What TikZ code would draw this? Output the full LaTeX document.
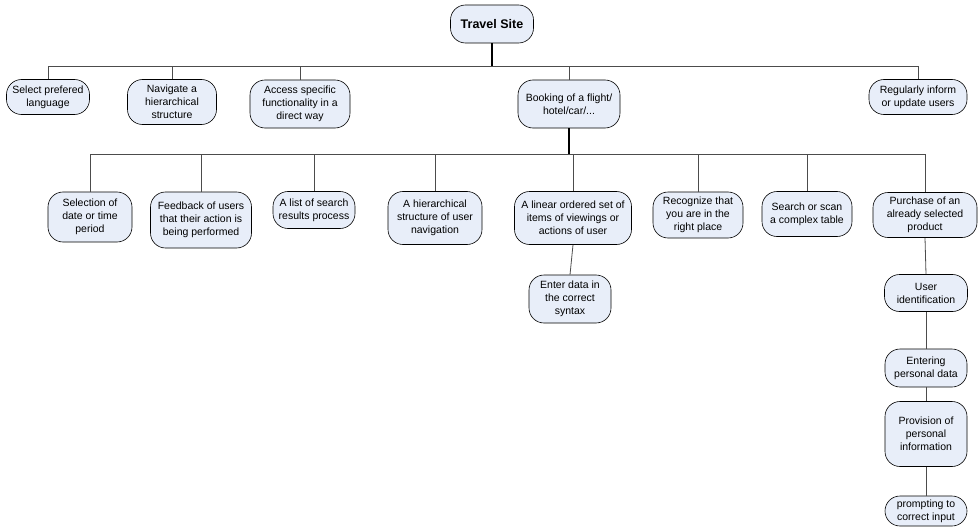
\documentclass[tikz,border=0pt]{standalone}
\usepackage{fontspec}
\setmainfont{Liberation Sans}
\usepackage{tikz}
\definecolor{boxfill}{RGB}{232, 238, 249}
\definecolor{linegray}{gray}{0.3}

\begin{document}
\begin{tikzpicture}[x=1pt, y=-1pt,
  box/.style={draw, line width=0.6, rounded corners=15, fill=boxfill, align=center,
    inner sep=1, font=\fontsize{10.5}{13}\selectfont},
  link/.style={draw=linegray, line width=0.8},
  trunk/.style={draw=black, line width=1.8}]

  \useasboundingbox (0, 0) rectangle (978, 527);

  \node[box, minimum width=83, minimum height=38, font=\fontsize{12.5}{14}\selectfont\bfseries]
    (site) at (492, 24) {Travel Site};

  \node[box, minimum width=83, minimum height=35] (lang) at (48, 97) {Select prefered\\language};
  \node[box, minimum width=89, minimum height=45] (navig) at (172, 102) {Navigate a\\hierarchical\\structure};
  \node[box, minimum width=100, minimum height=48] (access) at (300, 104) {Access specific\\functionality in a\\direct way};
  \node[box, minimum width=102, minimum height=48] (booking) at (569, 104) {Booking of a flight/\\hotel/car/...};
  \node[box, minimum width=98, minimum height=35] (inform) at (918, 97) {Regularly inform\\or update users};

  \node[box, minimum width=84, minimum height=50] (date) at (90, 217) {Selection of\\date or time\\period};
  \node[box, minimum width=101, minimum height=56] (feedback) at (201, 220) {Feedback of users\\that their action is\\being performed};
  \node[box, minimum width=82, minimum height=37] (results) at (314, 210) {A list of search\\results process};
  \node[box, minimum width=94, minimum height=53] (usernav) at (435, 218) {A hierarchical\\structure of user\\navigation};
  \node[box, minimum width=117, minimum height=53] (linear) at (573, 218) {A linear ordered set of\\items of viewings or\\actions of user};
  \node[box, minimum width=90, minimum height=46] (place) at (698, 215) {Recognize that\\you are in the\\right place};
  \node[box, minimum width=90, minimum height=45] (table) at (807, 214) {Search or scan\\a complex table};
  \node[box, minimum width=104, minimum height=45] (purchase) at (925, 215) {Purchase of an\\already selected\\product};

  \node[box, minimum width=82, minimum height=48] (syntax) at (570, 299) {Enter data in\\the correct\\syntax};

  \node[box, minimum width=83, minimum height=37] (ident) at (926, 293) {User\\identification};
  \node[box, minimum width=82, minimum height=38] (entering) at (926, 368) {Entering\\personal data};
  \node[box, minimum width=82, minimum height=65] (provision) at (926, 434) {Provision of\\personal\\information};
  \node[box, minimum width=82, minimum height=30] (prompting) at (926, 511) {prompting to\\correct input};

  % first level
  \draw[trunk] (site.south) -- (site.south |- 0, 66) coordinate (bar1);
  \foreach \n in {lang, navig, access, booking, inform}
    \draw[link] (\n.north) |- (bar1);

  % second level
  \draw[trunk] (booking.south) -- (booking.south |- 0, 154) coordinate (bar2);
  \foreach \n in {date, feedback, results, usernav, linear, place, table, purchase}
    \draw[link] (\n.north) |- (bar2);

  \draw[link] (linear.south) -- (syntax.north);

  \draw[link] (purchase.south) -- (ident.north);
  \draw[link] (ident.south) -- (entering.north);
  \draw[link] (entering.south) -- (provision.north);
  \draw[link] (provision.south) -- (prompting.north);

\end{tikzpicture}
\end{document}
